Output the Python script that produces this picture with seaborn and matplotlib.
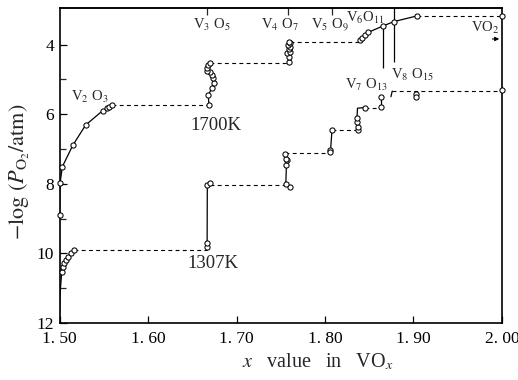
import matplotlib
matplotlib.use("Agg")
import matplotlib.pyplot as plt
import numpy as np
import pandas as pd
import seaborn as sns

# ---------------------------------------------------------------------------
# Equilibrium oxygen pressure over VO_x at 1700 K and 1307 K
# ---------------------------------------------------------------------------

# axis ticks
x_ticks = [1.50, 1.60, 1.70, 1.80, 1.90, 2.00]
x_tick_labels = ["1. 50", "1. 60", "1. 70", "1. 80", "1. 90", "2. 00"]
y_major = [4, 6, 8, 10, 12]
y_minor = [5, 7, 9, 11]
phase_ticks_top = [1.6662, 1.7582, 1.8084]          # V3O5, V4O7, V5O9

# ---- 1700 K -------------------------------------------------------------
t1700_v2o3_x = [1.5000, 1.5006, 1.5032, 1.5149, 1.5296, 1.5488, 1.5533, 1.5563, 1.5590]
t1700_v2o3_y = [8.90, 7.98, 7.51, 6.90, 6.31, 5.90, 5.83, 5.79, 5.74]

t1700_v3o5_x = [1.6688, 1.6681, 1.6720, 1.6746, 1.6731, 1.6720, 1.6701, 1.6670, 1.6663, 1.6681, 1.6701]
t1700_v3o5_y = [5.73, 5.45, 5.26, 5.10, 4.97, 4.87, 4.78, 4.75, 4.68, 4.59, 4.53]

t1700_v4o7_x = [1.7590, 1.7595, 1.7575, 1.7600, 1.7590, 1.7610, 1.7580, 1.7600, 1.7595]
t1700_v4o7_y = [4.50, 4.35, 4.25, 4.21, 4.14, 4.06, 4.01, 3.97, 3.92]

t1700_high_x = [1.8396, 1.8415, 1.8452, 1.8489, 1.8652, 1.8780, 1.9036]
t1700_high_y = [3.87, 3.82, 3.73, 3.65, 3.47, 3.34, 3.18]

t1700_vo2_x = [2.0000]
t1700_vo2_y = [3.18]

# ---- 1307 K -------------------------------------------------------------
t1307_v2o3_x = [1.5025, 1.5036, 1.5051, 1.5073, 1.5099, 1.5126, 1.5167]
t1307_v2o3_y = [10.53, 10.38, 10.28, 10.19, 10.10, 9.99, 9.90]

t1307_v3o5_x = [1.6668, 1.6668, 1.6670, 1.6695]
t1307_v3o5_y = [9.81, 9.71, 8.03, 7.98]

t1307_v4o7_x = [1.7602, 1.7557, 1.7564, 1.7568, 1.7560, 1.7545]
t1307_v4o7_y = [8.08, 8.00, 7.47, 7.33, 7.29, 7.14]

t1307_v5o9_x = [1.8053, 1.8061, 1.8079]
t1307_v5o9_y = [7.02, 7.10, 6.46]

t1307_v6o11_x = [1.8372, 1.8372, 1.8361, 1.8361, 1.8448]
t1307_v6o11_y = [6.46, 6.36, 6.22, 6.12, 5.81]

t1307_v7o13_x = [1.8637, 1.8637]
t1307_v7o13_y = [5.79, 5.52]

t1307_v8o15_x = [1.9032, 1.9032, 2.0000]
t1307_v8o15_y = [5.42, 5.51, 5.32]

# two-phase plateaus: (x_start, x_end, level)
plateau_x0 = [1.5590, 1.6701, 1.7600, 1.9036, 1.5167, 1.6695, 1.7545, 1.8079, 1.8448, 1.8760]
plateau_x1 = [1.6688, 1.7590, 1.8396, 2.0000, 1.6668, 1.7602, 1.8053, 1.8372, 1.8637, 2.0000]
plateau_y = [5.74, 4.52, 3.92, 3.18, 9.90, 8.03, 7.12, 6.46, 5.81, 5.34]

# composition markers for V7O13 and V8O15
marker_x = [1.8652, 1.8780]
marker_top = [3.47, 2.95]
marker_bottom = [4.68, 4.49]

# ---------------------------------------------------------------------------
sns.set_theme(style="ticks")
plt.rcParams["font.family"] = ["Liberation Serif", "DejaVu Serif"]
plt.rcParams["mathtext.fontset"] = "stix"

fig = plt.figure(figsize=(5.18, 3.80), dpi=100)
ax = fig.add_axes([0.1149, 0.150, 0.8542, 0.829])

# solid branches (single-phase regions)
solid_paths = [
    ([1.5000] + t1700_v2o3_x, [11.0] + t1700_v2o3_y),
    ([1.6688] + t1700_v3o5_x, [5.74] + t1700_v3o5_y),
    (t1700_v4o7_x, t1700_v4o7_y),
    (t1700_high_x, t1700_high_y),
    ([1.4998, 1.5005] + t1307_v2o3_x, [12.0, 11.2] + t1307_v2o3_y),
    ([1.6668] + t1307_v3o5_x, [9.90] + t1307_v3o5_y),
    (t1307_v4o7_x, t1307_v4o7_y),
    ([1.8053] + t1307_v5o9_x, [7.12] + t1307_v5o9_y),
    ([1.8372, 1.8361, 1.8361, 1.8367, 1.8448], [6.46, 6.22, 6.12, 5.83, 5.81]),
    (t1307_v7o13_x, t1307_v7o13_y),
    ([1.8745, 1.8752, 1.8760], [5.50, 5.42, 5.34]),
]
solid = pd.concat(
    [pd.DataFrame({"x": xs, "y": ys, "seg": i}) for i, (xs, ys) in enumerate(solid_paths)],
    ignore_index=True,
)
sns.lineplot(data=solid, x="x", y="y", units="seg", estimator=None, sort=False,
             color="black", linewidth=0.9, legend=False, ax=ax)

# dashed plateaus
dashed = pd.concat(
    [pd.DataFrame({"x": [a, b], "y": [l, l], "seg": i})
     for i, (a, b, l) in enumerate(zip(plateau_x0, plateau_x1, plateau_y))],
    ignore_index=True,
)
sns.lineplot(data=dashed, x="x", y="y", units="seg", estimator=None, sort=False,
             color="black", linewidth=0.8, linestyle=(0, (3.5, 3)), legend=False, ax=ax)

# composition lines
ax.vlines(marker_x, marker_top, marker_bottom, color="black", linewidth=0.9)

# measured points
pts_x = (t1700_v2o3_x + t1700_v3o5_x + t1700_v4o7_x + t1700_high_x + t1700_vo2_x +
         t1307_v2o3_x + t1307_v3o5_x + t1307_v4o7_x + t1307_v5o9_x + t1307_v6o11_x +
         t1307_v7o13_x + t1307_v8o15_x)
pts_y = (t1700_v2o3_y + t1700_v3o5_y + t1700_v4o7_y + t1700_high_y + t1700_vo2_y +
         t1307_v2o3_y + t1307_v3o5_y + t1307_v4o7_y + t1307_v5o9_y + t1307_v6o11_y +
         t1307_v7o13_y + t1307_v8o15_y)
pts = pd.DataFrame({"x": pts_x, "y": pts_y})
sns.scatterplot(data=pts, x="x", y="y", marker="o", s=14, color="white",
                edgecolor="black", linewidth=0.75, zorder=4, clip_on=False, ax=ax)

# axes
ax.set_xlim(1.5, 2.0)
ax.set_ylim(12, 2.95)
ax.set_xticks(x_ticks)
ax.set_xticklabels(x_tick_labels)
ax.set_yticks(y_major)
ax.set_yticks(y_minor, minor=True)
ax.tick_params(axis="both", which="major", direction="in", length=5, width=0.9,
               labelsize=12.5, pad=4, colors="black")
ax.tick_params(axis="x", which="major", pad=6)
ax.tick_params(axis="y", which="minor", direction="in", length=4, width=0.9)
for sp in ax.spines.values():
    sp.set_visible(True)
    sp.set_linewidth(1.2)
    sp.set_color("black")

top = ax.secondary_xaxis("top")
top.set_xticks(phase_ticks_top)
top.set_xticklabels([])
top.tick_params(direction="in", length=5, width=0.9)

ax.set_xlabel(r"$x$   value   in   VO$_x$", fontsize=14.5)
ax.set_ylabel(r"$-\log\,(P_{\mathrm{O}_2}/\mathrm{atm})$", fontsize=16)
ax.xaxis.set_label_coords(0.584, -0.092)
ax.yaxis.set_label_coords(-0.062, 0.48)

# phase labels
lab = dict(fontsize=10.5, ha="center", va="center")
ax.text(1.5345, 5.50, r"V$_2$ O$_3$", **lab)
ax.text(1.6720, 3.44, r"V$_3$ O$_5$", **lab)
ax.text(1.7490, 3.44, r"V$_4$ O$_7$", **lab)
ax.text(1.8050, 3.44, r"V$_5$ O$_9$", **lab)
ax.text(1.8460, 3.24, r"V$_6$O$_{11}$", **lab)
ax.text(1.8470, 5.16, r"V$_7$ O$_{13}$", **lab)
ax.text(1.8990, 4.87, r"V$_8$ O$_{15}$", **lab)
ax.text(1.9810, 3.52, r"VO$_2$", **lab)
ax.annotate("", xy=(2.0, 3.84), xytext=(1.986, 3.84),
            arrowprops=dict(arrowstyle="-|>", color="black", lw=0.8, mutation_scale=6))
ax.text(1.6475, 6.34, "1700K", fontsize=13.5, ha="left", va="center")
ax.text(1.6440, 10.28, "1307K", fontsize=13.5, ha="left", va="center")

fig.savefig("out.png", dpi=100)
